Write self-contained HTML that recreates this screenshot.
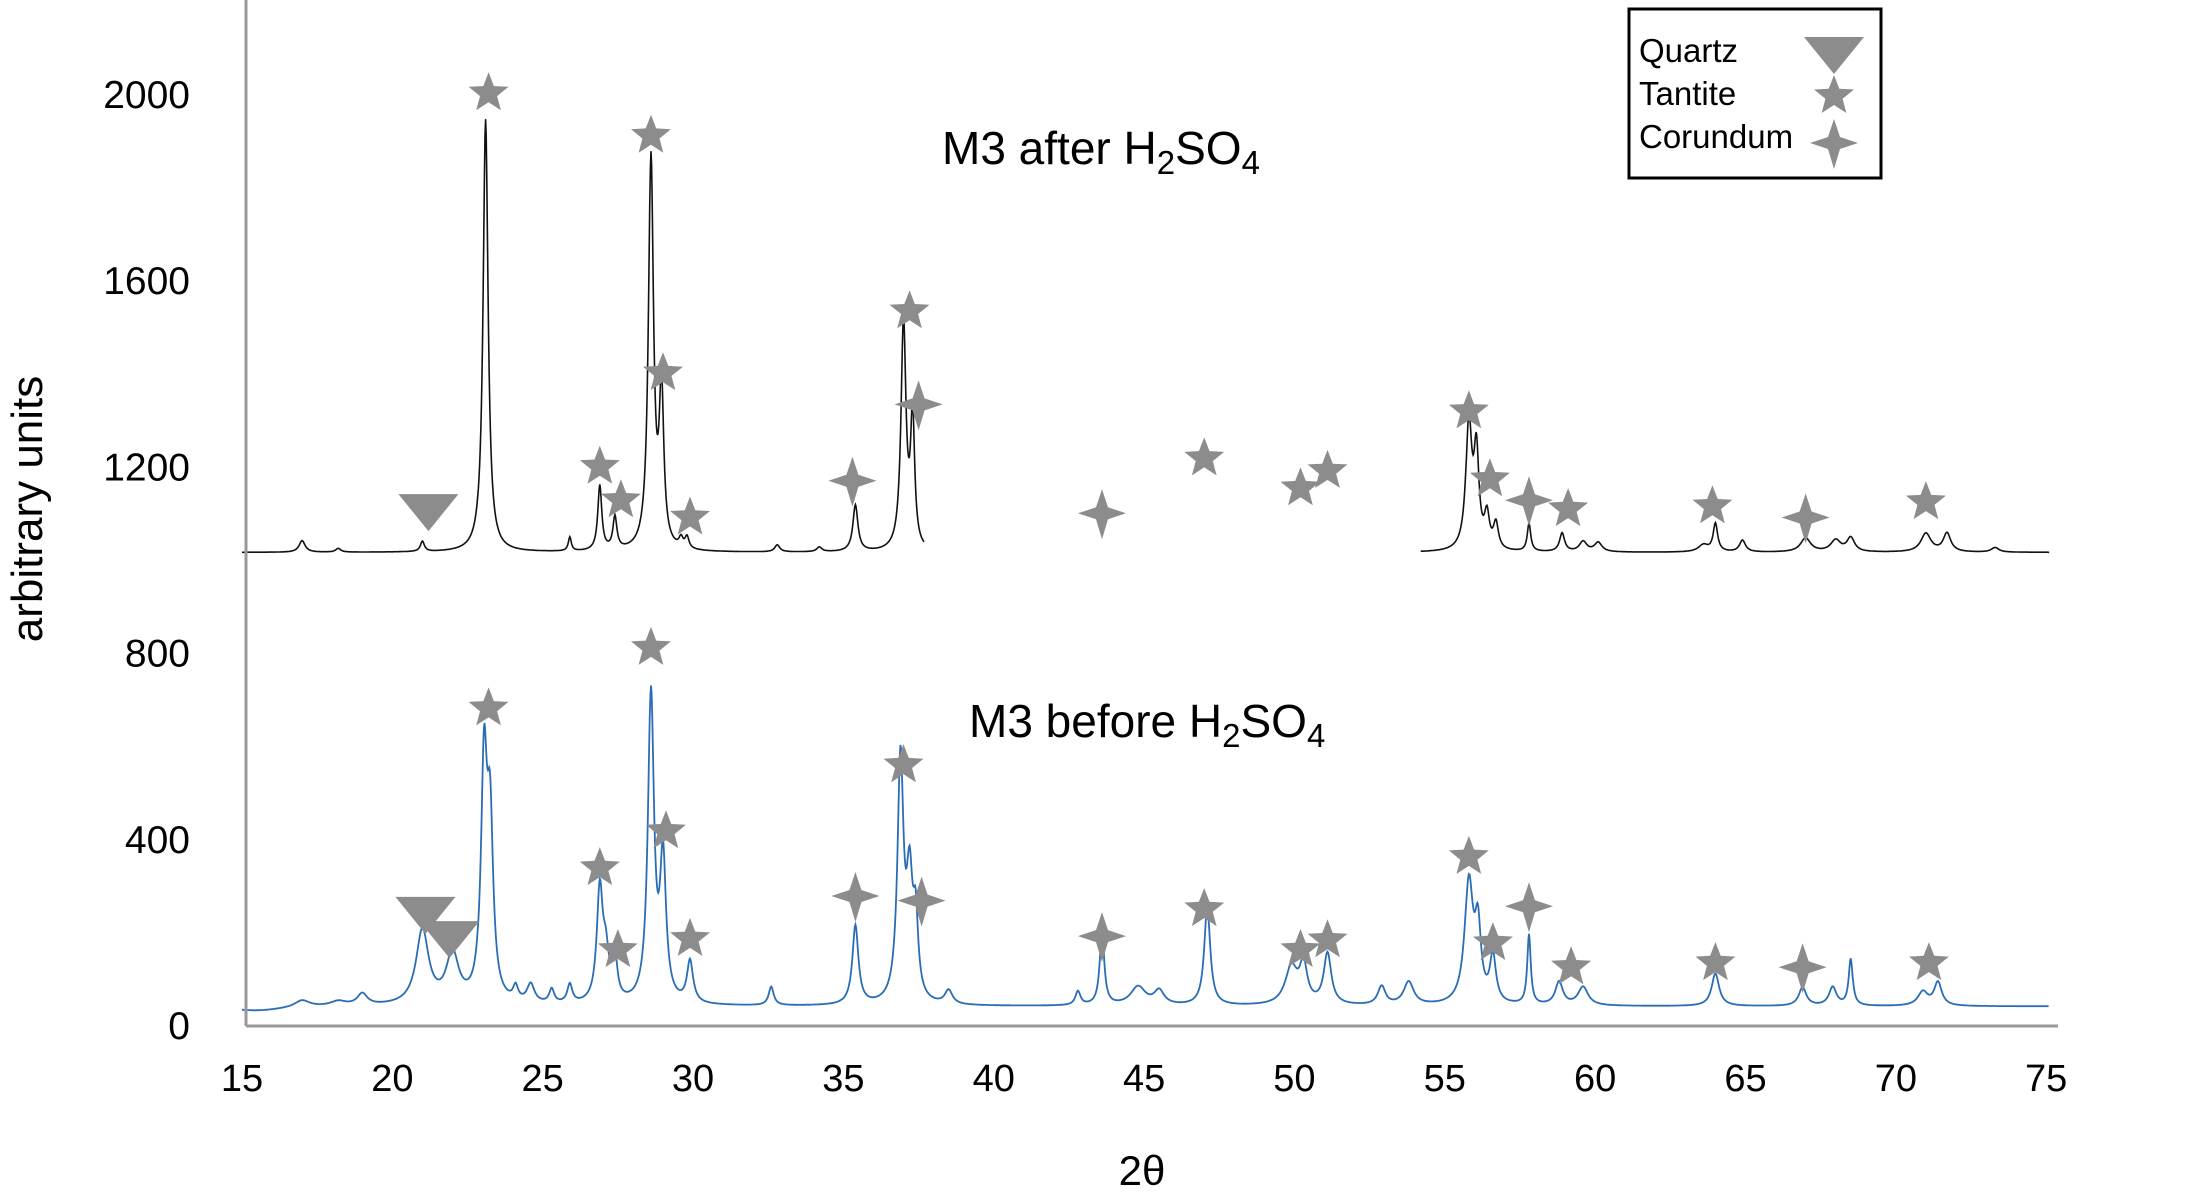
<!DOCTYPE html>
<html><head><meta charset="utf-8"><style>
html,body{margin:0;padding:0;background:#fff;}
svg{display:block;font-family:"Liberation Sans",Arial,sans-serif;}
</style></head><body>
<svg id="chart" width="2206" height="1197" viewBox="0 0 2206 1197" xmlns="http://www.w3.org/2000/svg">
<g id="grid"></g>
<g id="series"></g>
<g id="markers"></g>
<line x1="246" y1="0" x2="246" y2="1026" stroke="#999" stroke-width="3"/>
<line x1="246" y1="1026" x2="2058" y2="1026" stroke="#999" stroke-width="3"/>
<g id="yticks" font-size="39" text-anchor="end"></g>
<g id="xticks" font-size="38" text-anchor="middle"></g>
<text transform="translate(42,509) rotate(-90)" font-size="44" text-anchor="middle">arbitrary units</text>
<text x="1142" y="1185" font-size="42" text-anchor="middle">2θ</text>
<text x="942" y="164" font-size="46">M3 after H<tspan font-size="33" dy="10">2</tspan><tspan dy="-10">SO</tspan><tspan font-size="33" dy="10">4</tspan></text>
<text x="969" y="737" font-size="46">M3 before  H<tspan font-size="33" dy="10">2</tspan><tspan dy="-10">SO</tspan><tspan font-size="33" dy="10">4</tspan></text>
<g>
<rect x="1629" y="9" width="252" height="169" fill="#fff" stroke="#000" stroke-width="3"/>
<text x="1639" y="62" font-size="33">Quartz</text>
<text x="1639" y="105" font-size="33">Tantite</text>
<text x="1639" y="148" font-size="33">Corundum</text>
<g id="legendSymbols"></g>
</g>
</svg>
<script>
// ---- data ----
const xTicks = [15,20,25,30,35,40,45,50,55,60,65,70,75];
const yTicks = [0,400,800,1200,1600,2000];
const afterBaseline = 1015;
const afterSegments = [[15,37.7],[54.2,75.1]];
const afterPeaks = [[17.0,25,0.12],[18.2,8,0.1],[21.0,22,0.08],[23.1,930,0.1],[25.9,30,0.06],[26.9,140,0.08],[27.4,70,0.08],[28.6,840,0.1],[28.95,330,0.09],[29.6,20,0.08],[29.8,25,0.08],[32.8,15,0.1],[34.2,10,0.1],[35.4,100,0.1],[37.0,490,0.1],[37.3,280,0.08],
  [55.8,270,0.12],[56.05,200,0.1],[56.4,70,0.1],[56.7,55,0.1],[57.8,60,0.07],[58.9,40,0.1],[59.6,22,0.15],[60.1,20,0.15],[63.6,15,0.2],[64.0,60,0.09],[64.9,25,0.12],[67.0,30,0.2],[68.0,25,0.2],[68.5,30,0.15],[71.0,40,0.2],[71.7,40,0.15],[73.3,10,0.15]];
const beforeBaseline = 40;
const beforePeaks = [[15.5,-10,1.2],[17.0,15,0.3],[18.2,10,0.3],[19.0,25,0.2],[21.0,160,0.25],[22.0,105,0.25],[23.05,500,0.12],[23.25,360,0.12],[24.1,30,0.1],[24.6,40,0.15],[25.3,30,0.1],[25.9,40,0.1],[26.9,240,0.12],[27.1,90,0.12],[27.4,90,0.1],[28.6,660,0.12],[29.0,300,0.12],[29.9,90,0.12],[32.6,40,0.1],[35.4,170,0.12],[36.9,520,0.12],[37.2,240,0.12],[37.4,160,0.1],[38.5,30,0.15],[42.8,30,0.1],[43.6,160,0.09],[44.8,40,0.3],[45.5,30,0.2],[47.1,210,0.12],[49.9,80,0.25],[50.3,80,0.15],[51.1,110,0.15],[52.9,40,0.15],[53.8,50,0.2],[55.8,260,0.17],[56.1,150,0.12],[56.6,100,0.12],[57.8,150,0.07],[58.8,50,0.15],[59.6,40,0.2],[64.0,70,0.15],[66.9,40,0.15],[67.9,40,0.15],[68.5,100,0.08],[70.9,30,0.2],[71.4,50,0.15]];
const markerTypes = ['q','t','c'];
const afterMarkers = [['q',21.2,1108],['t',23.2,2001],['t',28.6,1910],['t',29.0,1400],['t',26.9,1199],['t',27.6,1127],['t',29.9,1090],['c',35.3,1169],['t',37.2,1533],['c',37.5,1333],['c',43.6,1099],['t',47.0,1217],['t',50.2,1153],['t',51.1,1190],['t',55.8,1318],['t',56.5,1172],['c',57.8,1127],['t',59.1,1108],['t',63.9,1114],['c',67.0,1090],['t',71.0,1123]];
const beforeMarkers = [['q',21.1,243],['q',21.9,191],['t',23.2,680],['t',28.6,810],['t',29.1,416],['t',26.9,337],['t',27.5,161],['t',29.9,185],['c',35.4,277],['t',37.0,558],['c',37.6,267],['c',43.6,191],['t',47.0,249],['t',50.2,161],['t',51.1,182],['t',55.8,361],['t',56.6,176],['c',57.8,255],['t',59.2,124],['t',64.0,133],['c',66.9,124],['t',71.1,133]];

// ---- scales ----
const X = v => 242 + (v-15)*30.07;
const Y = v => 1025 - v*0.4656;
const NS='http://www.w3.org/2000/svg';
function mk(tag, attrs, parent){const e=document.createElementNS(NS,tag);for(const k in attrs)e.setAttribute(k,attrs[k]);parent.appendChild(e);return e;}

const yt=document.getElementById('yticks');
yTicks.forEach(v=>{const t=mk('text',{x:190,y:Y(v)+14},yt);


t.textContent=v;});
const xt=document.getElementById('xticks');
xTicks.forEach(v=>{const t=mk('text',{x:X(v),y:1091},xt);


t.textContent=v;});

function curve(base, peaks, a, b){
  let d='';
  for(let x=a;x<=b;x+=0.02){
    let v=base;
    for(const p of peaks){const z=(x-p[0])/p[2];v+=p[1]/(1+z*z);}
    d+=(d?'L':'M')+X(x).toFixed(1)+','+Y(v).toFixed(1);
  }
  return d;
}
const sg=document.getElementById('series');
afterSegments.forEach(s=>{const p=mk('path',{d:curve(afterBaseline,afterPeaks,s[0],s[1]),fill:'none',stroke:'#111','stroke-width':1.6},sg);

});
const pb=mk('path',{d:curve(beforeBaseline,beforePeaks,15,75.1),fill:'none',stroke:'#2a6db5','stroke-width':1.8},sg);



function starPath(cx,cy,R,r,n,rot){let d='';for(let i=0;i<2*n;i++){const a=rot+i*Math.PI/n;const rr=i%2?r:R;d+=(i?'L':'M')+(cx+rr*Math.sin(a)).toFixed(1)+','+(cy-rr*Math.cos(a)).toFixed(1);}return d+'Z';}
function symbol(type,cx,cy,parent){
  let d;
  if(type==='q') d=`M${cx-30},${cy-15}L${cx+30},${cy-15}L${cx},${cy+22}Z`;
  else if(type==='t') d=starPath(cx,cy,21,9,5,0);
  else d=`M${cx},${cy-24}L${cx+6},${cy-6}L${cx+24},${cy}L${cx+6},${cy+6}L${cx},${cy+26}L${cx-6},${cy+6}L${cx-24},${cy}L${cx-6},${cy-6}Z`;
  return mk('path',{d:d,fill:'#8c8c8c'},parent);
}
const mg=document.getElementById('markers');
afterMarkers.concat(beforeMarkers).forEach(m=>{const e=symbol(m[0],X(m[1]),Y(m[2]),mg);

});
const lg=document.getElementById('legendSymbols');
[['q',52],['t',96],['c',143]].forEach(s=>{const e=symbol(s[0],1834,s[1],lg);

});
</script>
</body></html>
